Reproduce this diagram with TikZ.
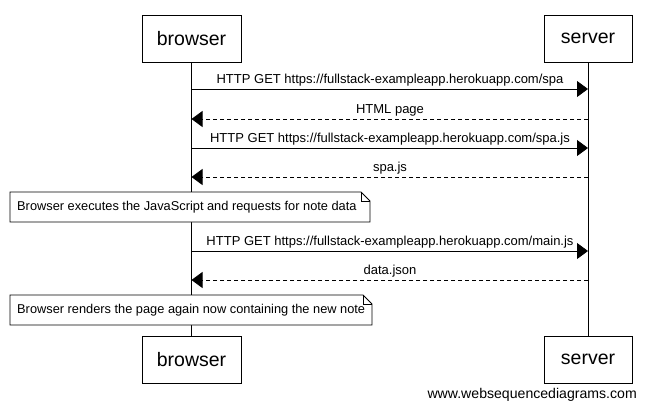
\documentclass[tikz,border=0pt]{standalone}
\usepackage{fontspec}
\setmainfont{Liberation Sans}
\usetikzlibrary{arrows.meta}
\begin{document}
\begin{tikzpicture}[x=1pt,y=-1pt,
  actor/.style={draw,fill=white,line width=0.8pt,minimum height=47pt,inner sep=0pt,font=\fontsize{19.5}{22}\selectfont},
  msg/.style={line width=0.8pt,-{Triangle[length=11pt,width=16pt]}},
  reply/.style={msg,dash pattern=on 4pt off 3pt},
  lbl/.style={font=\fontsize{13}{15}\selectfont,inner sep=0pt,anchor=base},
  notetxt/.style={font=\fontsize{12.8}{15}\selectfont,inner sep=0pt,anchor=west}]
\useasboundingbox (0,0) rectangle (646,408);
\fill[white] (0,0) rectangle (646,408);
% actors
\node[actor,minimum width=99pt] (bt) at (191.5,38.5) {browser};
\node[actor,minimum width=88pt] (st) at (588,38.5) {server};
\node[actor,minimum width=99pt] (bb) at (191.5,359.5) {browser};
\node[actor,minimum width=88pt] (sb) at (588,359.5) {server};
\draw[line width=0.8pt] (bt.south) -- (bb.north);
\draw[line width=0.8pt] (st.south) -- (sb.north);
% coordinates on lifelines
\coordinate (b1) at (191.5,89); \coordinate (s1) at (588,89);
\coordinate (b2) at (191.5,119); \coordinate (s2) at (588,119);
\coordinate (b3) at (191.5,148); \coordinate (s3) at (588,148);
\coordinate (b4) at (191.5,177); \coordinate (s4) at (588,177);
\coordinate (b5) at (191.5,251); \coordinate (s5) at (588,251);
\coordinate (b6) at (191.5,280); \coordinate (s6) at (588,280);
% messages
\draw[msg] (b1) -- (s1);
\node[lbl] (m1) at (390,83) {HTTP GET https://fullstack-exampleapp.herokuapp.com/spa};
\draw[reply] (s2) -- (b2);
\node[lbl] (m2) at (390,113) {HTML page};
\draw[msg] (b3) -- (s3);
\node[lbl] (m3) at (390,142) {HTTP GET https://fullstack-exampleapp.herokuapp.com/spa.js};
\draw[reply] (s4) -- (b4);
\node[lbl] (m4) at (390,171) {spa.js};
% note 1
\draw[line width=0.8pt,fill=white] (10,192) -- (361,192) -- (370,201) -- (370,222) -- (10,222) -- cycle;
\draw[line width=0.8pt] (361,192) -- (361,201) -- (370,201);
\node[notetxt] (n1) at (17,207.5) {Browser executes the JavaScript and requests for note data};
\draw[msg] (b5) -- (s5);
\node[lbl] (m5) at (390,245) {HTTP GET https://fullstack-exampleapp.herokuapp.com/main.js};
\draw[reply] (s6) -- (b6);
\node[lbl] (m6) at (390,274) {data.json};
% note 2
\draw[line width=0.8pt,fill=white] (10,295) -- (363,295) -- (372,304) -- (372,325) -- (10,325) -- cycle;
\draw[line width=0.8pt] (363,295) -- (363,304) -- (372,304);
\node[notetxt] (n2) at (17,310.5) {Browser renders the page again now containing the new note};
% footer
\node[font=\fontsize{14.1}{16}\selectfont,inner sep=0pt,anchor=base east] (ft) at (637,398) {www.websequencediagrams.com};
\end{tikzpicture}
\end{document}
